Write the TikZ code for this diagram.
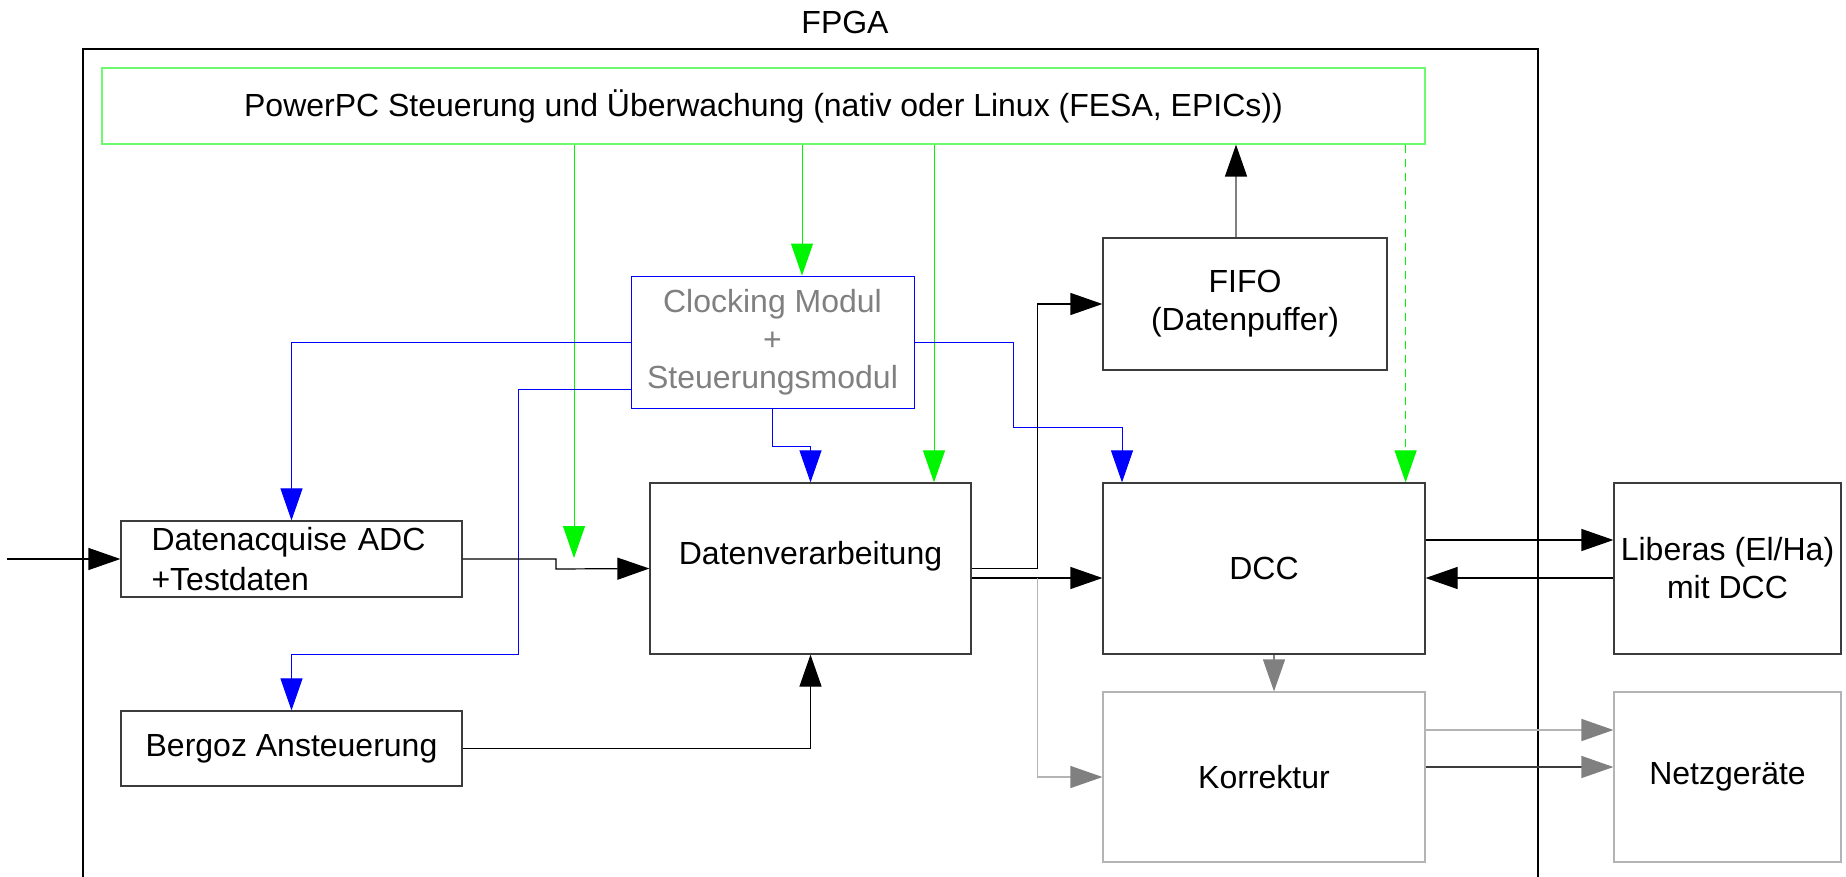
\documentclass[tikz,border=0pt]{standalone}
\usepackage{fontspec}
\setmainfont{Liberation Sans}
\usepackage{tikz}
\usetikzlibrary{arrows.meta, positioning, calc}

\definecolor{ppcgreen}{RGB}{110,250,110}
\definecolor{siggreen}{RGB}{0,245,0}
\definecolor{boxgray}{RGB}{60,60,60}
\definecolor{korrgray}{RGB}{180,180,180}
\definecolor{tipgray}{RGB}{128,128,128}

\begin{document}
\begin{tikzpicture}[x=0.5pt, y=-0.5pt, font=\fontsize{16}{19}\selectfont, line width=0.6pt,
    block/.style={draw=boxgray, line width=0.6pt, inner sep=2pt, align=center},
    arr/.style={-{Triangle[length=16pt, width=11pt]}},
    grn/.style={siggreen, line width=0.5pt},
    blu/.style={blue, line width=0.5pt},
    garr/.style={-{Triangle[length=16pt, width=11pt, color=tipgray]}}]
    \useasboundingbox (0,0) rectangle (1846,877);

    % FPGA frame, open at the bottom
    \draw (83,877) |- (1538,49) -- (1538,877);
    \node (fpga) at (845,22) {FPGA};

    % Blocks inside the FPGA
    \node[block, draw=ppcgreen, minimum width=661.5pt, minimum height=38pt] (ppc) at (763.5,106)
        {PowerPC Steuerung und Überwachung (nativ oder Linux (FESA, EPICs))};
    \node[block, draw=blue, line width=0.45pt, text=tipgray, minimum width=141.5pt, minimum height=66pt] (clk) at (772.5,342)
        {Clocking Modul\\+\\Steuerungsmodul};
    \node[block, minimum width=142pt, minimum height=66pt] (fifo) at (1245,304) {FIFO\\(Datenpuffer)};
    \node[block, align=left, text width=140pt, inner xsep=15.25pt, minimum height=38pt] (adc) at (291.5,559)
        {Datenacquise ADC\\[1pt]+Testdaten};
    \node[block, minimum width=170.5pt, minimum height=37.5pt] (bergoz) at (291.5,748.5) {Bergoz Ansteuerung};
    \node[block, text depth=16pt, minimum width=160.5pt, minimum height=85.5pt] (dv) at (810.5,568.5) {Datenverarbeitung};
    \node[block, minimum width=161pt, minimum height=85.5pt] (dcc) at (1264,568.5) {DCC};
    \node[block, draw=korrgray, minimum width=161pt, minimum height=85pt] (korr) at (1264,777) {Korrektur};

    % Devices outside
    \node[block, minimum width=113.5pt, minimum height=85.5pt] (lib) at (1727.5,568.5) {Liberas (El/Ha)\\mit DCC};
    \node[block, draw=korrgray, minimum width=113.5pt, minimum height=85pt] (netz) at (1727.5,777) {Netzgeräte};

    % Control lines from the PowerPC
    \coordinate (gtip) at (574,558);
    \draw[grn, arr] (ppc.south -| gtip) -- (gtip);
    \draw[grn, arr] (ppc.south -| 802,0) -- (clk.north -| 802,0);
    \draw[grn, arr] (ppc.south -| 934,0) -- (dv.north -| 934,0);
    \draw[grn, arr, dashed, dash pattern=on 4pt off 3pt] (ppc.south -| 1405.6,0) -- (dcc.north -| 1405.6,0);

    % Clock distribution
    \draw[blu, arr] (clk.west) -| (adc.north);
    \draw[blu, arr] (clk.west |- 0,389) -| (518,654) -| (bergoz.north);
    \draw[blu, arr] (clk.south) -- ++(0,38) -| (dv.north);
    \draw[blu, arr] (clk.east) -| (1013,427) -| ([xshift=9.8pt]dcc.north west);

    % Data path
    \coordinate (in) at (7,559);
    \draw[arr] (in) -- (adc.west);
    \draw[arr] (adc.east) -| (556,569) -- (dv.west);
    \draw[arr] (bergoz.east) -| (dv.south);
    \draw[arr] (dv.east) -| (1037.6,304) -- (fifo.west);
    \draw[arr] (dv.east |- 0,578) -- (dcc.west |- 0,578);
    \draw[tipgray, line width=0.7pt, -{Triangle[length=16pt, width=11pt, color=black]}] (fifo.north -| 1236,0) -- (ppc.south -| 1236,0);
    \draw[arr] (dcc.east |- 0,540) -- (lib.west |- 0,540);
    \draw[arr] (lib.west |- 0,578) -- (dcc.east |- 0,578);

    % Correction path
    \draw[korrgray, garr] (1037.6,578) |- (korr.west);
    \draw[tipgray, garr] (dcc.south -| 1274,0) -- (korr.north -| 1274,0);
    \draw[korrgray, line width=0.7pt, garr] (korr.east |- 0,730) -- (netz.west |- 0,730);
    \draw[boxgray, garr] (korr.east |- 0,767) -- (netz.west |- 0,767);
\end{tikzpicture}
\end{document}
